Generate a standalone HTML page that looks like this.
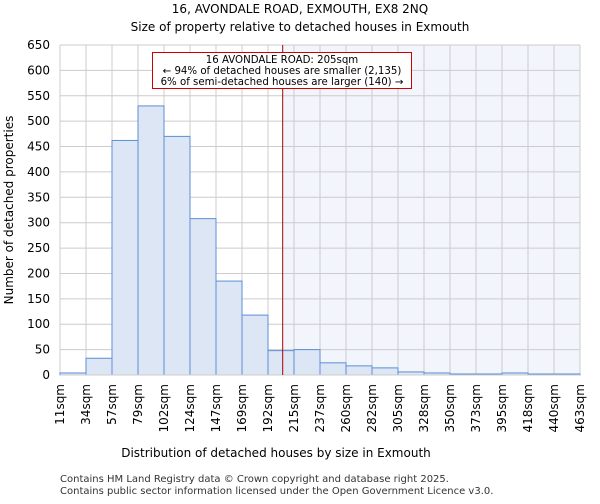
<!DOCTYPE html>
<html><head><meta charset="utf-8"><style>
body{margin:0;background:#fff;font-family:"DejaVu Sans","Liberation Sans",sans-serif}
</style></head><body>
<svg id="c" width="600" height="500" xmlns="http://www.w3.org/2000/svg" font-family="DejaVu Sans, Liberation Sans, sans-serif">
<text x="300" y="13" text-anchor="middle" font-size="12">16, AVONDALE ROAD, EXMOUTH, EX8 2NQ</text>
<text x="300" y="31" text-anchor="middle" font-size="12">Size of property relative to detached houses in Exmouth</text>
<g id="plot"></g>
<text x="276" y="457" text-anchor="middle" font-size="12">Distribution of detached houses by size in Exmouth</text>
<text transform="translate(13,210) rotate(-90)" text-anchor="middle" font-size="12">Number of detached properties</text>
<text x="60" y="482" font-size="10" fill="#333">Contains HM Land Registry data © Crown copyright and database right 2025.</text>
<text x="60" y="494" font-size="10" fill="#333">Contains public sector information licensed under the Open Government Licence v3.0.</text>
</svg>
<script>
const edgeLabels=[11,34,57,79,102,124,147,169,192,215,237,260,282,305,328,350,373,395,418,440,463];
const counts=[4,33,462,530,470,308,185,118,48,50,24,18,14,6,4,2,2,4,2,2];
const yTicks=[0,50,100,150,200,250,300,350,400,450,500,550,600,650];
const subjectSize=205;
const X0=60,X1=580,Y0=375,Y1=45,YMAX=650;
const NS="http://www.w3.org/2000/svg";
const g=document.getElementById('plot');
const bw=(X1-X0)/counts.length;
function xi(i){return X0+i*bw;}
function y(v){return Y0-(v/YMAX)*(Y0-Y1);}
function xv(v){for(let i=0;i<edgeLabels.length-1;i++){if(v>=edgeLabels[i]&&v<=edgeLabels[i+1])return xi(i)+(v-edgeLabels[i])/(edgeLabels[i+1]-edgeLabels[i])*bw;}return X1;}
function mk(t,a){const e=document.createElementNS(NS,t);for(const k in a)e.setAttribute(k,a[k]);g.appendChild(e);return e;}
const sx=xv(subjectSize);
let e=mk('rect',{x:sx,y:Y1,width:X1-sx,height:Y0-Y1,fill:'#f3f5fc'});


yTicks.forEach(t=>{
 let l=mk('line',{x1:X0,x2:X1,y1:y(t),y2:y(t),stroke:'#cccccc'});
 
 
 let tx=mk('text',{x:X0-10,y:y(t)+4,'text-anchor':'end','font-size':'12'});tx.textContent=t;
 
 
});
edgeLabels.forEach((lab,i)=>{
 let l=mk('line',{x1:xi(i),x2:xi(i),y1:Y1,y2:Y0,stroke:'#cccccc'});
 
 
 let tx=mk('text',{transform:`translate(${xi(i)+4},384) rotate(-90)`,'text-anchor':'end','font-size':'12'});tx.textContent=lab+'sqm';
 
 
});
counts.forEach((c,i)=>{
 let r=mk('rect',{x:xi(i),y:y(c),width:bw,height:Y0-y(c),fill:'#dce6f4',stroke:'#5b8fd6','stroke-width':1});
 
 
});
let a=mk('line',{x1:X0,x2:X1,y1:Y0,y2:Y0,stroke:'#cccccc'});


let rl=mk('line',{x1:sx,x2:sx,y1:Y1,y2:Y0,stroke:'#aa0000','stroke-width':1});


let box=mk('rect',{x:152.5,y:52.5,width:259,height:36,fill:'#fff',stroke:'#cc0000'});


["16 AVONDALE ROAD: 205sqm","← 94% of detached houses are smaller (2,135)","6% of semi-detached houses are larger (140) →"].forEach((s,i)=>{
 let t=mk('text',{x:282,y:63+i*11,'text-anchor':'middle','font-size':'10.2'});t.textContent=s;
 
 
});
</script>
</body></html>
